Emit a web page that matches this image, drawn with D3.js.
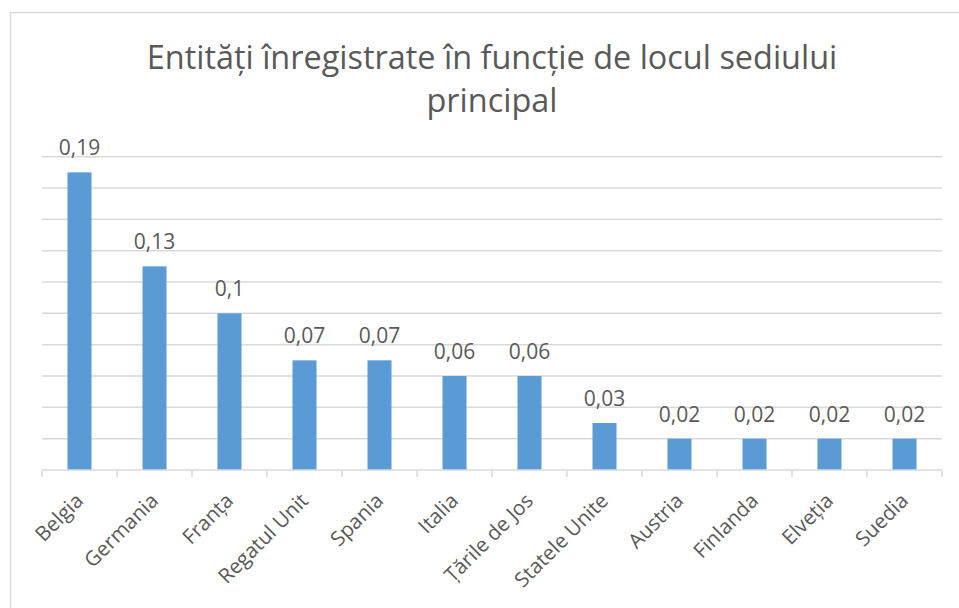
<!DOCTYPE html>
<html>
<head>
<meta charset="utf-8">
<script src="https://cdn.jsdelivr.net/npm/d3@7"></script>
<style>
  body { margin: 0; background: #fff; }
  svg { display: block; }
  text { font-family: "Open Sans", Lato, sans-serif; fill: #595959; }
</style>
</head>
<body>
<div id="chart"></div>
<script>
// data
let countries = ["Belgia", "Germania", "Franța", "Regatul Unit", "Spania", "Italia",
  "Țările de Jos", "Statele Unite", "Austria", "Finlanda", "Elveția", "Suedia"];
let shares = [0.19, 0.13, 0.1, 0.07, 0.07, 0.06, 0.06, 0.03, 0.02, 0.02, 0.02, 0.02];
let gridTicks = [0, 0.02, 0.04, 0.06, 0.08, 0.1, 0.12, 0.14, 0.16, 0.18, 0.2];
let titleLines = ["Entități înregistrate în funcție de locul sediului", "principal"];

let width = 959, height = 608;
let plotLeft = 42, plotRight = 942, plotTop = 156.7, plotBottom = 470;

let svg = d3.select("#chart").append("svg")
    .attr("width", width)
    .attr("height", height);

// chart frame
svg.append("rect")
    .attr("x", 10.5).attr("y", 12.5)
    .attr("width", 960).attr("height", 620)
    .attr("fill", "#fff")
    .attr("stroke", "#d9d9d9")
    .attr("stroke-width", 1.5);

let x = d3.scaleBand()
    .domain(countries)
    .range([plotLeft, plotRight])
    .paddingInner(0.68)
    .paddingOuter(0.34);

let y = d3.scaleLinear()
    .domain([0, 0.2])
    .range([plotBottom, plotTop]);

// gridlines
svg.append("g")
    .selectAll("line")
    .data(gridTicks.slice(1))
    .enter().append("line")
    .attr("x1", plotLeft).attr("x2", plotRight)
    .attr("y1", d => y(d)).attr("y2", d => y(d))
    .attr("stroke", "#d9d9d9")
    .attr("stroke-width", 1.5);

// bars
svg.append("g")
    .selectAll("rect")
    .data(shares)
    .enter().append("rect")
    .attr("x", (d, i) => x(countries[i]))
    .attr("y", d => y(d))
    .attr("width", x.bandwidth())
    .attr("height", d => y(0) - y(d))
    .attr("fill", "#5b9bd5");

// value labels
let fmt = d => String(d).replace(".", ",");
svg.append("g")
    .selectAll("text")
    .data(shares)
    .enter().append("text")
    .attr("x", (d, i) => x(countries[i]) + x.bandwidth() / 2)
    .attr("y", d => y(d) - 17)
    .attr("text-anchor", "middle")
    .style("font-size", "21px")
    .text(fmt);

// x axis: baseline, ticks at category boundaries
let step = x.step();
let axis = svg.append("g");
axis.append("line")
    .attr("x1", plotLeft).attr("x2", plotRight)
    .attr("y1", plotBottom).attr("y2", plotBottom)
    .attr("stroke", "#d9d9d9")
    .attr("stroke-width", 1.5);
axis.selectAll(".tick")
    .data(d3.range(countries.length + 1))
    .enter().append("line")
    .attr("x1", i => plotLeft + i * step).attr("x2", i => plotLeft + i * step)
    .attr("y1", plotBottom).attr("y2", plotBottom + 7)
    .attr("stroke", "#d9d9d9")
    .attr("stroke-width", 1.5);

axis.selectAll("text")
    .data(countries)
    .enter().append("text")
    .attr("text-anchor", "end")
    .attr("transform", d => "translate(" + (x(d) + x.bandwidth() / 2 + 5) + "," + (plotBottom + 32) + ") rotate(-45)")
    .style("font-size", "20.5px")
    .text(d => d);

// title, sized so the first line spans the same width as the original
let title = svg.append("g")
    .selectAll("text")
    .data(titleLines)
    .enter().append("text")
    .attr("x", 492)
    .attr("y", (d, i) => 68.5 + i * 43.5)
    .attr("text-anchor", "middle")
    .style("font-size", "30px")
    .text(d => d);
let w = title.node().getComputedTextLength();
title.style("font-size", (30 * 691 / w) + "px");
</script>
</body>
</html>
